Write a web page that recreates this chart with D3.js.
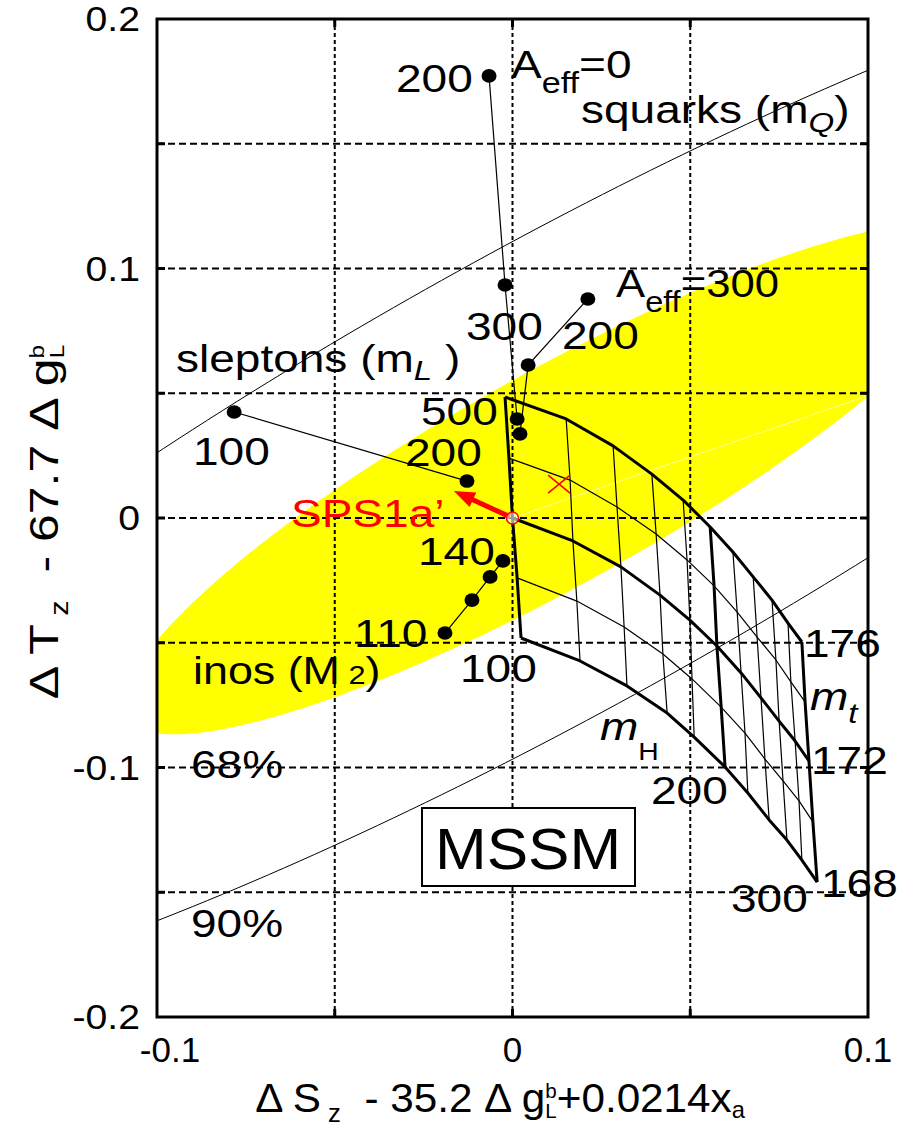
<!DOCTYPE html>
<html>
<head>
<meta charset="utf-8">
<script src="https://cdn.jsdelivr.net/npm/d3@7"></script>
<style>
  body { margin: 0; background: #fff; }
  text { font-family: "Liberation Sans", Arial, Helvetica, sans-serif; }
</style>
</head>
<body>
<svg id="chart" width="909" height="1128"></svg>
<script>
// ---- axes ----
const xDomain = [-0.1, 0.1];
const yDomain = [-0.2, 0.2];
const xGrid = [-0.05, 0, 0.05];
const yGrid = [-0.15, -0.1, -0.05, 0, 0.05, 0.1, 0.15];
const xTickLabels = [[-0.1, "-0.1"], [0, "0"], [0.1, "0.1"]];
const yTickLabels = [[0.2, "0.2"], [0.1, "0.1"], [0, "0"], [-0.1, "-0.1"], [-0.2, "-0.2"]];

// ---- fit contours: centre and two conjugate semi-diameters ----
const fitCenter = [0.0117, 0.0158];
const fitAxisA = [0.121, 0.0904];
const fitAxisB = [0.0, 0.0483];
const contourLevels = ["68%", "90%"];
const contourScale = [1.0, 2.15];
const bestFit = [0.0131, 0.0136];
const sps1a = [0, 0];
const sps1aShift = [-0.0165, 0.0108];
const fillSeam = [[0, 0], [0.1, 0.049]];

// ---- SUSY mass scans ----
const squarkMasses = [200, 300, 500];
const squarkA0 = [[-0.0066, 0.1772], [-0.0021, 0.0934], [0.0013, 0.0397]];
const squarkA300 = [[0.0212, 0.0878], [0.0044, 0.0613], [0.0021, 0.0337]];
const sleptonMasses = [100, 200];
const sleptonPts = [[-0.0783, 0.0425], [-0.0128, 0.0148]];
const inoMasses = [110, 120, 130, 140];
const inoPts = [[-0.0190, -0.0461], [-0.0114, -0.0329], [-0.0063, -0.0236], [-0.0027, -0.0172]];

// ---- SM-like grid in (m_t, m_H) ----
const mtValues = [176, 174, 172, 170, 168];
const mHValues = [100, 120, 140, 160, 180, 200, 220, 240, 260, 280, 300];
const gridS = [
  [-0.0021, 0.0151, 0.0283, 0.0392, 0.0480, 0.0556, 0.0620, 0.0677, 0.0730, 0.0775, 0.0814],
  [-0.0010, 0.0162, 0.0294, 0.0404, 0.0491, 0.0567, 0.0632, 0.0688, 0.0741, 0.0783, 0.0823],
  [ 0.0000, 0.0170, 0.0305, 0.0415, 0.0499, 0.0575, 0.0643, 0.0699, 0.0750, 0.0795, 0.0834],
  [ 0.0013, 0.0181, 0.0314, 0.0423, 0.0505, 0.0587, 0.0654, 0.0710, 0.0761, 0.0806, 0.0845],
  [ 0.0024, 0.0190, 0.0322, 0.0435, 0.0511, 0.0598, 0.0662, 0.0722, 0.0772, 0.0814, 0.0857]
];
const gridT = [
  [ 0.0485,  0.0397,  0.0289,  0.0176,  0.0072, -0.0036, -0.0136, -0.0236, -0.0329, -0.0421, -0.0497],
  [ 0.0240,  0.0152,  0.0044, -0.0064, -0.0168, -0.0272, -0.0377, -0.0477, -0.0569, -0.0657, -0.0737],
  [ 0.0000, -0.0092, -0.0196, -0.0309, -0.0409, -0.0513, -0.0621, -0.0721, -0.0814, -0.0894, -0.0974],
  [-0.0240, -0.0333, -0.0437, -0.0545, -0.0645, -0.0758, -0.0862, -0.0966, -0.1054, -0.1134, -0.1218],
  [-0.0481, -0.0573, -0.0673, -0.0782, -0.0878, -0.0998, -0.1102, -0.1210, -0.1291, -0.1371, -0.1459]
];
const thickMt = [176, 172, 168];
const thickMH = [100, 200, 300];

// ---------------------------------------------------------------
const svg = d3.select("#chart");
const L = 157, R = 868, T = 19, B = 1017;
const x = d3.scaleLinear().domain(xDomain).range([L, R]);
const y = d3.scaleLinear().domain(yDomain).range([B, T]);
const line = d3.line().x(d => x(d[0])).y(d => y(d[1]));

svg.append("rect").attr("width", 909).attr("height", 1128).attr("fill", "#fff");
svg.append("clipPath").attr("id", "plotclip")
  .append("rect").attr("x", L).attr("y", T).attr("width", R - L).attr("height", B - T);
const plot = svg.append("g").attr("clip-path", "url(#plotclip)");

// contour outline points
function contour(s) {
  const pts = [];
  for (let i = 0; i < 360; i++) {
    const t = i * Math.PI / 180;
    pts.push([
      fitCenter[0] + s * (fitAxisA[0] * Math.cos(t) + fitAxisB[0] * Math.sin(t)),
      fitCenter[1] + s * (fitAxisA[1] * Math.cos(t) + fitAxisB[1] * Math.sin(t))
    ]);
  }
  return pts;
}
const closed = d3.line().x(d => x(d[0])).y(d => y(d[1])).curve(d3.curveLinearClosed);

// 68% region filled yellow
plot.append("path").attr("d", closed(contour(contourScale[0])))
  .attr("fill", "#ffff00").attr("stroke", "none");
plot.append("path").attr("d", line(fillSeam))
  .attr("stroke", "#fff").attr("stroke-width", 0.7).attr("opacity", 0.85);

// 90% contour as a thin outline
plot.append("path").attr("d", closed(contour(contourScale[1])))
  .attr("fill", "none").attr("stroke", "#000").attr("stroke-width", 1);

// dashed grid
plot.selectAll(".hg").data(yGrid).join("line")
  .attr("x1", L).attr("x2", R).attr("y1", d => y(d)).attr("y2", d => y(d))
  .attr("stroke", "#000").attr("stroke-width", 2).attr("stroke-dasharray", "7,4");
plot.selectAll(".vg").data(xGrid).join("line")
  .attr("y1", T).attr("y2", B).attr("x1", d => x(d)).attr("x2", d => x(d))
  .attr("stroke", "#000").attr("stroke-width", 2).attr("stroke-dasharray", "4,3");

// m_t / m_H mesh
mtValues.forEach((mt, i) => {
  const pts = mHValues.map((_, j) => [gridS[i][j], gridT[i][j]]);
  plot.append("path").attr("d", line(pts)).attr("fill", "none")
    .attr("stroke", "#000").attr("stroke-width", thickMt.includes(mt) ? 3 : 1.2)
    .attr("stroke-linejoin", "round");
});
mHValues.forEach((mh, j) => {
  const pts = mtValues.map((_, i) => [gridS[i][j], gridT[i][j]]);
  plot.append("path").attr("d", line(pts)).attr("fill", "none")
    .attr("stroke", "#000").attr("stroke-width", thickMH.includes(mh) ? 3 : 1.2)
    .attr("stroke-linejoin", "round");
});

// mass scans
[squarkA0, squarkA300, sleptonPts, inoPts].forEach(pts => {
  plot.append("path").attr("d", line(pts)).attr("fill", "none")
    .attr("stroke", "#000").attr("stroke-width", 1.2);
  plot.selectAll(null).data(pts).join("ellipse")
    .attr("cx", d => x(d[0])).attr("cy", d => y(d[1]))
    .attr("rx", 7.5).attr("ry", 6.8).attr("fill", "#000");
});

// best fit marker
const bx = x(bestFit[0]), by = y(bestFit[1]);
plot.append("path")
  .attr("d", `M${bx - 11},${by - 9}L${bx + 11},${by + 9}M${bx - 11},${by + 9}L${bx + 11},${by - 9}`)
  .attr("stroke", "#ff0000").attr("stroke-width", 1.6).attr("fill", "none");

// SPS1a' point and shift arrow
const p0 = [x(sps1a[0]), y(sps1a[1])], p1 = [x(sps1aShift[0]), y(sps1aShift[1])];
const dx = p1[0] - p0[0], dy = p1[1] - p0[1], len = Math.hypot(dx, dy);
const ux = dx / len, uy = dy / len;
const headL = 21, headW = 8;
const base = [p1[0] - ux * headL, p1[1] - uy * headL];
plot.append("line").attr("x1", p0[0] + ux * 3).attr("y1", p0[1] + uy * 3)
  .attr("x2", base[0] + ux * 2).attr("y2", base[1] + uy * 2)
  .attr("stroke", "#ff0000").attr("stroke-width", 5);
plot.append("path")
  .attr("d", `M${p1[0]},${p1[1]}L${base[0] - uy * headW},${base[1] + ux * headW}L${base[0] + uy * headW},${base[1] - ux * headW}Z`)
  .attr("fill", "#ff0000");
plot.append("circle").attr("cx", p0[0]).attr("cy", p0[1]).attr("r", 6)
  .attr("fill", "#fff").attr("fill-opacity", 0.6).attr("stroke", "#ff0000").attr("stroke-width", 1.5);

// frame and inward ticks
svg.append("rect").attr("x", L).attr("y", T).attr("width", R - L).attr("height", B - T)
  .attr("fill", "none").attr("stroke", "#000").attr("stroke-width", 3);
const tk = svg.append("g").attr("stroke", "#000").attr("stroke-width", 3);
yGrid.forEach(v => {
  tk.append("line").attr("x1", L).attr("x2", L + 8).attr("y1", y(v)).attr("y2", y(v));
  tk.append("line").attr("x1", R - 8).attr("x2", R).attr("y1", y(v)).attr("y2", y(v));
});
xGrid.forEach(v => {
  tk.append("line").attr("y1", B).attr("y2", B - 8).attr("x1", x(v)).attr("x2", x(v));
  tk.append("line").attr("y1", T).attr("y2", T + 8).attr("x1", x(v)).attr("x2", x(v));
});

// text helper: parts = [{t, shift, it, size, dx}]
function label(px, py, parts, opt = {}) {
  const size = opt.size || 39, sx = opt.sx || 1.18;
  const t = svg.append("text")
    .attr("transform", `translate(${px},${py}) ${opt.rot ? `rotate(${opt.rot})` : ""} scale(${sx},1)`)
    .attr("font-size", size).attr("text-anchor", opt.anchor || "start")
    .attr("fill", opt.fill || "#000")
    .style("white-space", "pre");
  let shift = 0;
  parts.forEach(p => {
    const target = p.shift || 0;
    const s = t.append("tspan").text(p.t).attr("dy", target - shift);
    shift = target;
    if (p.size) s.attr("font-size", p.size);
    if (p.it) s.attr("font-style", "italic");
    if (p.dx) s.attr("dx", p.dx);
  });
  return t;
}

// tick labels (negative labels centred on their digits)
xTickLabels.forEach(([v, s]) => label(x(v) + (v < 0 ? 13 : 0), 1062, [{ t: s }], { size: 35, sx: 1.0, anchor: "middle" }));
yTickLabels.forEach(([v, s]) => label(140, y(v) + 12, [{ t: s }], { size: 35, sx: 1.12, anchor: "end" }));

// axis titles
label(500, 1112, [
  { t: "Δ S" }, { t: " z", shift: 10, size: 25 }, { t: "  - 35.2 Δ g" },
  { t: "b", shift: -14, size: 20 }, { t: "L", shift: 6, size: 20, dx: -11 },
  { t: "+0.0214x" }, { t: "a", shift: 6, size: 23 }
], { size: 41, sx: 1.03, anchor: "middle" });
label(58, 522, [
  { t: "Δ T" }, { t: " z", shift: 10, size: 25 }, { t: "  - 67.7 Δ g" },
  { t: "b", shift: -14, size: 20 }, { t: "L", shift: 6, size: 20, dx: -11 }
], { size: 41, sx: 1.22, anchor: "middle", rot: -90 });

// scan labels
label(396, 92, [{ t: String(squarkMasses[0]) }]);
label(511, 78, [{ t: "A" }, { t: "eff", shift: 15, size: 29 }, { t: "=0" }]);
label(581, 123, [{ t: "squarks (m" }, { t: "Q", shift: 9, size: 28, it: true }, { t: ")" }]);
label(616, 297, [{ t: "A" }, { t: "eff", shift: 15, size: 29 }, { t: "=300" }], { sx: 1.12 });
label(466, 340, [{ t: String(squarkMasses[1]) }]);
label(562, 349, [{ t: String(squarkMasses[0]) }]);
label(421, 425, [{ t: String(squarkMasses[2]) }]);
label(176, 372, [{ t: "sleptons (m" }, { t: "L", shift: 8, size: 28, it: true }, { t: " )" }]);
label(193, 465, [{ t: String(sleptonMasses[0]) }]);
label(405, 466, [{ t: String(sleptonMasses[1]) }]);
label(291, 527, [{ t: "SPS1a’" }], { fill: "#ff0000" });
label(418, 565, [{ t: String(inoMasses[3]) }]);
label(354, 647, [{ t: String(inoMasses[0]) }]);
label(193, 684, [{ t: "inos (M" }, { t: " 2", size: 26 }, { t: ")" }], { size: 38 });
label(460, 682, [{ t: String(mHValues[0]) }]);
label(191, 778, [{ t: contourLevels[0] }]);
label(191, 937, [{ t: contourLevels[1] }]);

// grid labels
label(804, 657, [{ t: String(mtValues[0]) }]);
label(811, 774, [{ t: String(mtValues[2]) }]);
label(821, 897, [{ t: String(mtValues[4]) }]);
label(651, 804, [{ t: String(mHValues[5]) }]);
label(731, 912, [{ t: String(mHValues[10]) }]);
label(600, 740, [{ t: "m", it: true }, { t: "H", shift: 20, size: 24 }]);
label(810, 710, [{ t: "m", it: true }, { t: "t", shift: 13, size: 28, it: true }]);

// model box
svg.append("rect").attr("x", 422).attr("y", 808).attr("width", 213).attr("height", 78)
  .attr("fill", "#fff").attr("stroke", "#000").attr("stroke-width", 2);
label(528, 869, [{ t: "MSSM" }], { size: 58, sx: 1.07, anchor: "middle" });
</script>
</body>
</html>
